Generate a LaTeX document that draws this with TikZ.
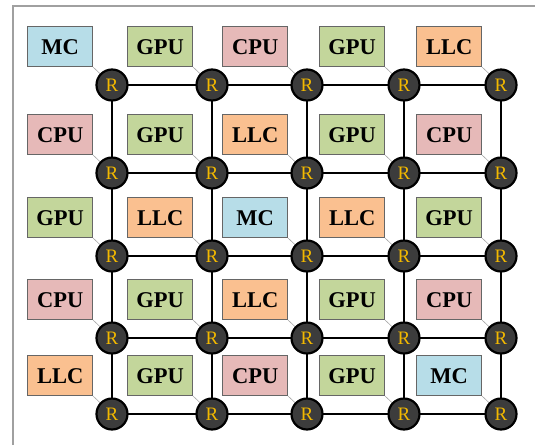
\documentclass[tikz,border=0pt]{standalone}
\usepackage{fontspec}
\setmainfont{Liberation Serif}
\definecolor{mcblue}{HTML}{B7DDE8}
\definecolor{gpugreen}{HTML}{C3D69B}
\definecolor{cpupink}{HTML}{E6B9B8}
\definecolor{llcorange}{HTML}{FAC090}
\definecolor{routerfill}{HTML}{3C3C3C}
\definecolor{rgold}{HTML}{F2B800}
\definecolor{framegray}{HTML}{A0A0A0}
\tikzset{
  unit/.style={draw=gray!80!black, line width=0.6pt, minimum width=65pt, minimum height=40pt,
    inner sep=0pt, font=\fontsize{22.5}{22.5}\selectfont\bfseries, text=black},
  MC/.style={unit, fill=mcblue},
  GPU/.style={unit, fill=gpugreen},
  CPU/.style={unit, fill=cpupink},
  LLC/.style={unit, fill=llcorange},
  router/.style={circle, draw=black, line width=2.2pt, fill=routerfill, minimum size=31pt,
    inner sep=0pt, text=rgold, font=\fontsize{19}{19}\selectfont},
  link/.style={black, line width=2.8pt},
  tap/.style={gray!70, line width=0.6pt}
}
\begin{document}
\begin{tikzpicture}[x=1pt, y=-1pt]
\useasboundingbox (0,0) rectangle (535,445);
% frame
\draw[framegray, line width=1.5pt] (13,445) -- (13,6) -- (535,6);
% router columns and rows
\def\xs{{112,212,307,404,501}}
\def\ys{{85,173,256,338,414}}
% links
\foreach \i in {0,...,4}{
  \pgfmathsetmacro{\xx}{\xs[\i]}
  \pgfmathsetmacro{\yy}{\ys[\i]}
  \draw[link] (\xx,85) -- (\xx,414);
  \draw[link] (112,\yy) -- (501,\yy);
}
% processing elements and routers
\foreach \row/\types in {1/{MC,GPU,CPU,GPU,LLC},2/{CPU,GPU,LLC,GPU,CPU},3/{GPU,LLC,MC,LLC,GPU},4/{CPU,GPU,LLC,GPU,CPU},5/{LLC,GPU,CPU,GPU,MC}}{
  \foreach \t [count=\col] in \types {
    \pgfmathsetmacro{\xx}{\xs[\col-1]}
    \pgfmathsetmacro{\yy}{\ys[\row-1]}
    \node[\t, anchor=south east] (b\row\col) at (\xx-19,\yy-18) {\t};
    \draw[tap] (b\row\col.south east) -- (\xx,\yy);
    \node[router] (r\row\col) at (\xx,\yy) {R};
  }
}
\end{tikzpicture}
\end{document}
